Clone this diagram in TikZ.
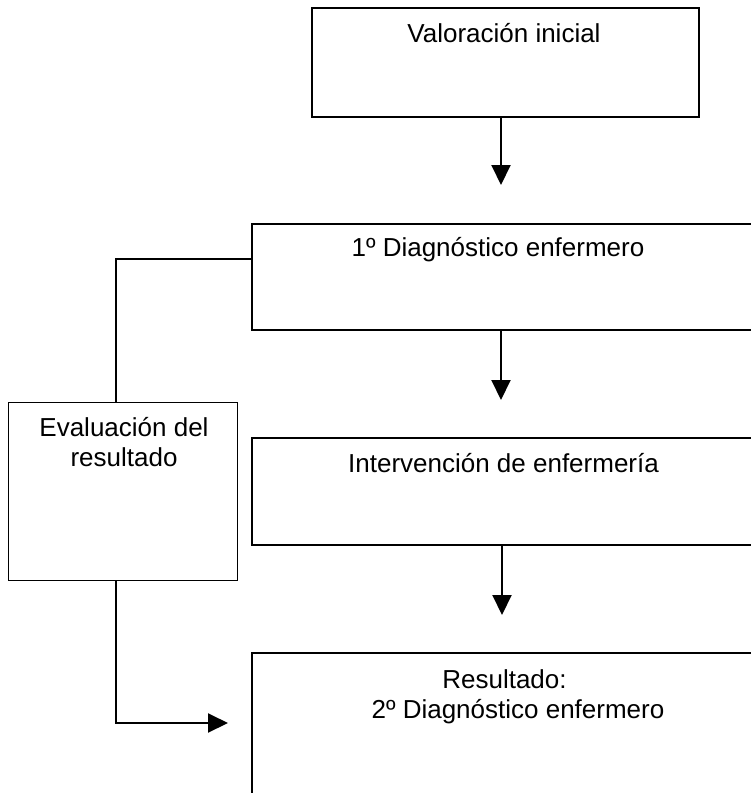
\documentclass[tikz,border=0pt]{standalone}
\usepackage{fontspec}
\setmainfont{Liberation Sans}
\usetikzlibrary{arrows.meta}

\begin{document}
\begin{tikzpicture}[x=1pt, y=-1pt,
    box/.style={draw, line width=2pt, rectangle, anchor=north west, inner sep=0pt},
    thinbox/.style={draw, line width=1pt, rectangle, anchor=north west, inner sep=0pt},
    txt/.style={anchor=base, inner sep=0pt, align=center, font=\fontsize{26}{30}\selectfont},
    link/.style={line width=2pt},
    flow/.style={line width=2pt, -{Triangle[length=20pt, width=19pt]}}]
    % Fix the page size and cut off what runs past it
    \useasboundingbox (0,0) rectangle (751,793);
    \clip (0,0) rectangle (751,793);
    % Draw the boxes
    \node[box, minimum width=387pt, minimum height=109pt] (valoracion) at (311,7) {};
    \node[box, minimum width=540pt, minimum height=106pt] (diag1) at (251,223) {};
    \node[thinbox, minimum width=229pt, minimum height=178pt] (eval) at (8,402) {};
    \node[box, minimum width=540pt, minimum height=107pt] (interv) at (251,437) {};
    \node[box, minimum width=540pt, minimum height=160pt] (result) at (251,652) {};
    % Texts near the top of each box (base = last line)
    \node[txt] (valtxt) at (504,42) {Valoración inicial};
    \node[txt] (diag1txt) at (498,256) {1º Diagnóstico enfermero};
    \node[txt] (evaltxt) at (124,466) {Evaluación del\\resultado};
    \node[txt] (intervtxt) at (503.5,472) {Intervención de enfermería};
    \node[txt] (resulttxt) at (504.5,718) {Resultado:\\\hspace*{27pt}2º Diagnóstico enfermero};
    % Arrows down the right column
    \coordinate (tipA) at (501,185);
    \coordinate (tipB) at (501,400);
    \coordinate (tipC) at (502,615);
    \draw[flow] (valoracion.south -| tipA) -- (tipA);
    \draw[flow] (diag1.south -| tipB) -- (tipB);
    \draw[flow] (interv.south -| tipC) -- (tipC);
    % Loop through the evaluation box
    \coordinate (tipD) at (228,723);
    \draw[link] ([yshift=-36pt]diag1.north west) -| ([xshift=-7.5pt]eval.north);
    \draw[flow] ([xshift=-7.5pt]eval.south) |- (tipD);
\end{tikzpicture}
\end{document}
